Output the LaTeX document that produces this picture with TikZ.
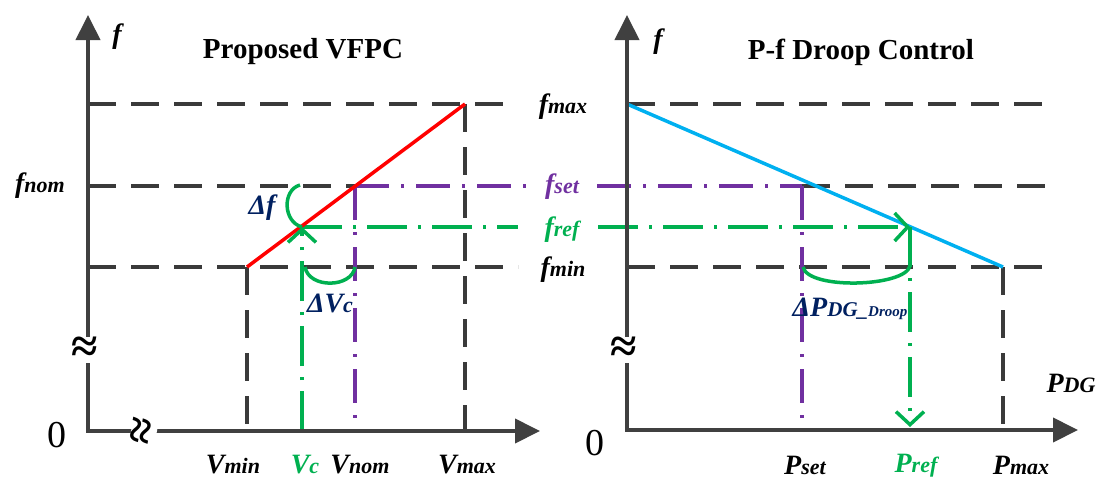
\documentclass[tikz,border=0pt]{standalone}
\usepackage{fontspec}
\setmainfont{Liberation Serif}
\usetikzlibrary{arrows.meta}
\definecolor{axisgray}{HTML}{404040}
\definecolor{dgray}{HTML}{3A3A3A}
\definecolor{vred}{HTML}{FF0000}
\definecolor{vblue}{HTML}{00B0F0}
\definecolor{vgreen}{HTML}{00B050}
\definecolor{vpurple}{HTML}{7030A0}
\definecolor{vnavy}{HTML}{002060}
\newcommand{\mylab}[2]{{\fontsize{28}{30}\selectfont #1}{\fontsize{22}{24}\selectfont #2}}
\tikzset{
  axisline/.style={draw=axisgray, line width=4pt, line join=miter,
    {Triangle[length=25pt,width=24pt]}-{Triangle[length=25pt,width=24pt]}},
  guide/.style={draw=dgray, line width=3.5pt, dash pattern=on 28pt off 15pt},
  pguide/.style={draw=vpurple, line width=3.5pt, dash pattern=on 34pt off 12pt on 3pt off 12pt},
  gguide/.style={draw=vgreen, line width=3.5pt, dash pattern=on 40pt off 11pt on 3pt off 11pt},
  arcline/.style={draw=vgreen, line width=3.5pt},
  gtip/.style={-{Straight Barb[length=13pt,width=28pt,line width=3.5pt]}},
  curve/.style={line width=3.5pt},
  lbl/.style={font=\bfseries\itshape, inner sep=0pt},
  dlbl/.style={lbl, text=vnavy},
  ttl/.style={font=\bfseries\fontsize{29}{32}\selectfont, inner sep=0pt},
  zero/.style={font=\fontsize{38}{40}\selectfont, inner sep=0pt},
  brk/.style={font=\bfseries\fontsize{48}{50}\selectfont, inner sep=0pt, fill=white},
}
\begin{document}
\begin{tikzpicture}[x=1pt,y=-1pt]
\useasboundingbox (0,0) rectangle (1097,480);
% ---------- left panel coordinates ----------
\coordinate (Y1) at (88,15);
\coordinate (O1) at (88,431);
\coordinate (X1) at (540,431);
\coordinate (fmaxL) at (88,104);
\coordinate (fnomL) at (88,186);
\coordinate (fminL) at (88,267);
\coordinate (A1) at (247,267);
\coordinate (B1) at (465,104);
\coordinate (C1) at (302,227);
\coordinate (N1) at (355,186);
\coordinate (N1b) at (355,267);
\coordinate (vminb) at (247,431);
\coordinate (vcb) at (302,431);
\coordinate (vnomb) at (355,431);
\coordinate (vmaxb) at (465,431);
\coordinate (fmaxE) at (515,104);
\coordinate (fsetE) at (532,186);
\coordinate (frefE) at (518,227);
\coordinate (fminE) at (518,267);
\coordinate (dfTop) at (300,185);
\coordinate (dvS) at (305,267);
% ---------- right panel coordinates ----------
\coordinate (Y2) at (627,15);
\coordinate (O2) at (627,430);
\coordinate (X2) at (1078,430);
\coordinate (fmaxR) at (627,104);
\coordinate (fminR) at (627,267);
\coordinate (fmaxR2) at (1055,104);
\coordinate (fsetR2) at (1055,186);
\coordinate (fminR2) at (1055,267);
\coordinate (fsetS) at (597,186);
\coordinate (frefS) at (598,227);
\coordinate (S2) at (802,186);
\coordinate (S2m) at (803,267);
\coordinate (C2) at (910,227);
\coordinate (C2m) at (910,266);
\coordinate (Pm) at (1003,267);
\coordinate (psetb) at (802,431);
\coordinate (prefb) at (910,427);
\coordinate (pmaxb) at (1003,431);

% ---------- left panel guides ----------
\draw[guide] (fmaxL) -- (fmaxE);
\draw[guide] (fnomL) -- (N1);
\draw[guide] (fminL) -- (fminE);
\draw[guide] (A1) -- (vminb);
\draw[guide] (B1) -- (vmaxb);
\draw[pguide] (N1) -- (fsetE);
\draw[pguide] (N1) -- (vnomb);
\draw[gguide] (C1) -- (frefE);
% ---------- right panel guides ----------
\draw[guide] (fmaxR) -- (fmaxR2);
\draw[guide] (S2) -- (fsetR2);
\draw[guide] (fminR) -- (fminR2);
\draw[guide] (Pm) -- (pmaxb);
\draw[pguide] (fsetS) -- (S2);
\draw[pguide] (S2) -- (psetb);

% ---------- characteristic curves ----------
\draw[curve, draw=vred] (A1) -- (B1);
\draw[curve, draw=vblue] (fmaxR) -- (Pm);

% ---------- green arrows and arcs ----------
\draw[gguide, gtip] (vcb) -- (C1);
\draw[gguide, gtip] (frefS) -- (C2);
\draw[gguide, gtip] (C2) -- (prefb);
\draw[arcline] (dfTop) .. controls (282,190) and (283,222) .. (C1);
\draw[arcline] (dvS) .. controls (309,289) and (352,288) .. (N1b);
\draw[arcline] (S2m) .. controls (808,290) and (905,287) .. (C2m);

% ---------- axes ----------
\draw[axisline] (Y1) -- (O1) -- (X1);
\draw[axisline] (Y2) -- (O2) -- (X2);
\node[brk] (bk1) at (85,350) {≈};
\node[brk, rotate=80] (bk2) at (144,431) {≈};
\node[brk] (bk3) at (624,350) {≈};

% ---------- titles ----------
\node[ttl] (t1) at (303,52) {Proposed VFPC};
\node[ttl] (t2) at (861,52) {P-f Droop Control};

% ---------- left labels ----------
\node[lbl] (fy1) at (117,37) {\mylab{f}{}};
\node[zero] (z1) at (57,435) {0};
\node[lbl] (fnom) at (40,186) {\mylab{f}{nom}};
\node[lbl] (vmin) at (233,465) {\mylab{V}{min}};
\node[lbl, text=vgreen] (vc) at (305,465) {\mylab{V}{c}};
\node[lbl] (vnom) at (360,465) {\mylab{V}{nom}};
\node[lbl] (vmax) at (467,465) {\mylab{V}{max}};
\node[dlbl] (df) at (262,208) {{\fontsize{28}{30}\selectfont Δf}};
\node[dlbl] (dvc) at (330,303) {{\fontsize{28}{30}\selectfont ΔV}{\fontsize{22}{24}\selectfont c}};

% ---------- middle labels ----------
\node[lbl] (fmax) at (563,107) {\mylab{f}{max}};
\node[lbl, text=vpurple] (fset) at (562,187) {\mylab{f}{set}};
\node[lbl, text=vgreen] (fref) at (562,230) {\mylab{f}{ref}};
\node[lbl] (fmin) at (563,270) {\mylab{f}{min}};

% ---------- right labels ----------
\node[lbl] (fy2) at (658,42) {\mylab{f}{}};
\node[zero] (z2) at (595,443) {0};
\node[lbl] (pdg) at (1071,383) {\mylab{P}{DG}};
\node[lbl] (pset) at (805,465) {\mylab{P}{set}};
\node[lbl, text=vgreen] (pref) at (916,466) {\mylab{P}{ref}};
\node[lbl] (pmax) at (1021,465) {\mylab{P}{max}};
\node[dlbl] (dp) at (850,309) {{\fontsize{28}{30}\selectfont ΔP}{\fontsize{21}{23}\selectfont DG\_}{\fontsize{15}{17}\selectfont Droop}};
\end{tikzpicture}
\end{document}
